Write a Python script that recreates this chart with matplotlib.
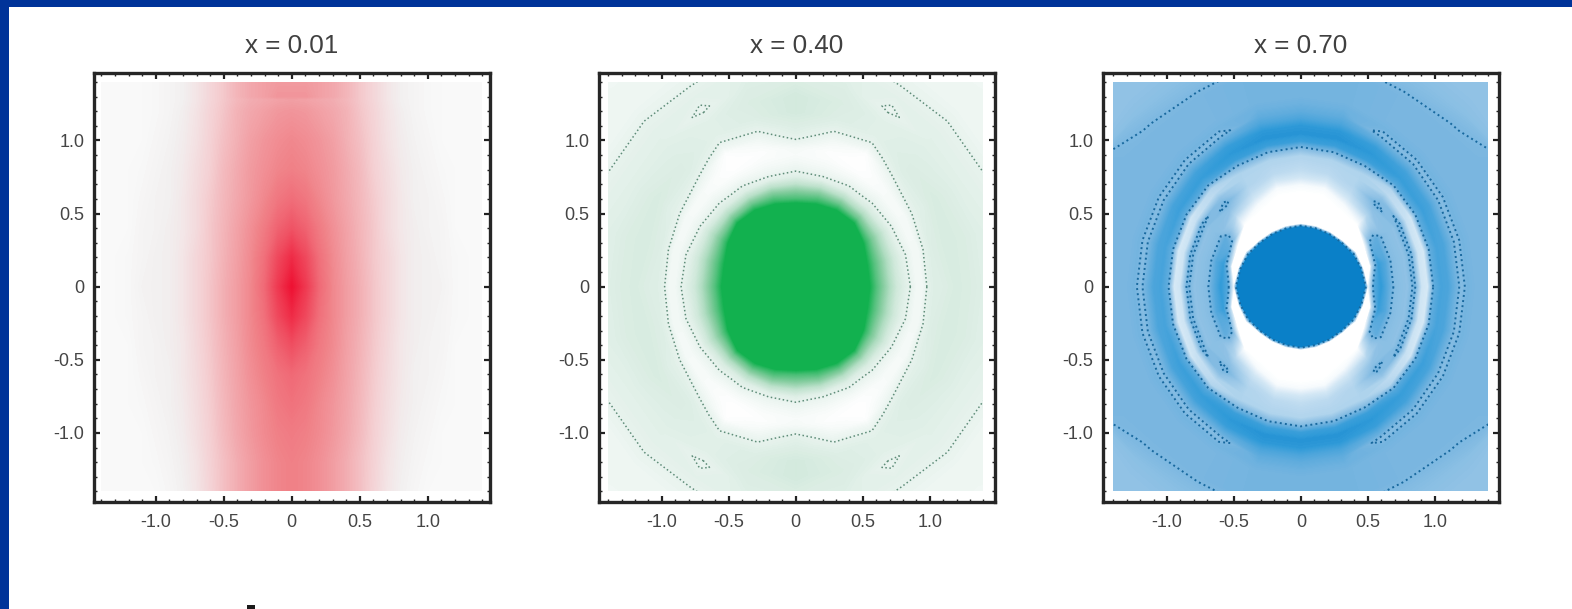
import numpy as np
import matplotlib
matplotlib.use('Agg')
import matplotlib.pyplot as plt
from matplotlib.colors import LinearSegmentedColormap
from matplotlib.patches import Rectangle
from matplotlib.ticker import MultipleLocator

plt.rcParams['font.family'] = ['Liberation Sans', 'DejaVu Sans']

W, H = 1572, 609
titles = ['x = 0.01', 'x = 0.40', 'x = 0.70']
tick_vals = [-1.0, -0.5, 0, 0.5, 1.0]
tick_labels = ['-1.0', '-0.5', '0', '0.5', '1.0']

# panel 1, values on a grid, right half only (mirrored in x)
red_x = [0, .1, .2, .3, .4, .5, .6, .7, .8, .9, 1.0, 1.1, 1.2, 1.3, 1.4]
red_y = [-1.4, -1.2, -1.0, -.8, -.6, -.4, -.2, 0, .2, .4, .6, .8, 1.0, 1.2, 1.28, 1.3, 1.4]
red_vals = [
    [.50, .48, .44, .39, .33, .26, .18, .10, .05, .02, 0, 0, 0, 0, 0],
    [.50, .48, .44, .39, .33, .26, .19, .11, .06, .03, .01, 0, 0, 0, 0],
    [.52, .50, .46, .41, .35, .28, .20, .13, .07, .04, .02, 0, 0, 0, 0],
    [.56, .53, .47, .42, .36, .29, .21, .14, .08, .05, .03, .01, 0, 0, 0],
    [.60, .56, .50, .44, .37, .30, .22, .15, .09, .05, .04, .02, 0, 0, 0],
    [.72, .64, .53, .46, .38, .31, .23, .16, .09, .06, .04, .03, 0, 0, 0],
    [.88, .75, .57, .47, .39, .32, .24, .17, .10, .06, .05, .03, .01, 0, 0],
    [1.0, .82, .60, .47, .39, .32, .24, .17, .10, .06, .05, .04, .01, 0, 0],
    [.88, .75, .57, .46, .38, .31, .23, .17, .10, .06, .05, .03, .01, 0, 0],
    [.70, .63, .52, .44, .37, .30, .23, .15, .09, .06, .04, .03, 0, 0, 0],
    [.58, .54, .47, .41, .35, .29, .22, .15, .09, .05, .04, .02, 0, 0, 0],
    [.50, .48, .44, .40, .34, .28, .20, .14, .08, .05, .03, .01, 0, 0, 0],
    [.47, .45, .42, .38, .32, .26, .19, .12, .07, .04, .02, 0, 0, 0, 0],
    [.42, .41, .38, .35, .31, .24, .18, .11, .06, .03, .01, 0, 0, 0, 0],
    [.38, .37, .35, .33, .29, .23, .17, .10, .05, .03, .01, 0, 0, 0, 0],
    [.42, .42, .38, .35, .30, .23, .17, .10, .05, .03, .01, 0, 0, 0, 0],
    [.40, .40, .38, .35, .30, .23, .17, .10, .05, .03, .01, 0, 0, 0, 0],
]

# panels 2 and 3, values by radius for angles 0,15..90 (mirrored into the other quadrants)
angles = [0, 15, 30, 45, 60, 75, 90]
green_r = [0, .3, .5, .55, .6, .65, .7, .75, .8, .85, .9, .95, 1.0, 1.05, 1.1, 1.15, 1.2, 1.3, 1.4, 1.5, 1.6, 1.7, 2.0]
green_vals = [
    [1.5, 1.5, 1.5, 1.0, .72, .50, .32, .20, .14, .095, .05, .05, .12, .14, .14, .15, .16, .15, .13, .12, .11, .10, .08],
    [1.5, 1.5, 1.5, 1.0, .72, .50, .32, .20, .13, .088, .05, .05, .11, .14, .15, .16, .16, .15, .13, .12, .11, .10, .07],
    [1.5, 1.5, 1.5, 1.25, .85, .55, .34, .20, .11, .07, .04, .04, .09, .12, .13, .15, .16, .14, .12, .11, .09, .07, .07],
    [1.5, 1.5, 1.5, 1.5, 1.1, .62, .32, .16, .095, .06, .03, .03, .06, .10, .13, .14, .14, .13, .12, .11, .09, .07, .06],
    [1.5, 1.5, 1.5, 1.5, 1.0, .60, .30, .14, .085, .04, .01, 0, 0, .01, .06, .10, .12, .12, .08, .11, .085, .07, .06],
    [1.5, 1.5, 1.5, 1.25, .85, .55, .28, .12, .07, .04, .02, .01, .03, .06, .09, .12, .14, .15, .14, .12, .10, .08, .07],
    [1.5, 1.5, 1.5, 1.15, .75, .50, .26, .13, .08, .05, .03, .04, .085, .12, .14, .16, .18, .18, .15, .13, .12, .10, .08],
]

blue_r = [0, .2, .4, .45, .5, .55, .6, .65, .7, .75, .8, .85, .9, .95, 1.0, 1.05, 1.1, 1.15, 1.2, 1.25, 1.3, 1.4, 1.5, 1.6, 1.7, 1.8, 2.0]
blue_vals = [
    [2, 2, 2, 2, 0, .75, .88, .72, .55, .52, .50, .62, .22, .18, .70, .80, .78, .66, .54, .62, .60, .60, .60, .60, .60, .60, .60],
    [2, 2, 2, 1.5, -1, .30, .85, .75, .55, .52, .50, .62, .22, .18, .70, .80, .78, .66, .54, .62, .60, .60, .60, .60, .60, .60, .55],
    [2, 2, 2, .7, -1, 0, .62, .70, .55, .52, .50, .62, .25, .20, .72, .84, .80, .66, .54, .62, .60, .60, .60, .60, .60, .50, .50],
    [2, 2, 2, -.5, -1, 0, 0, .15, .35, .50, .62, .50, .30, .34, .75, .86, .82, .68, .54, .62, .60, .60, .60, .575, .52, .50, .50],
    [2, 2, 1.5, -1, -1, 0, 0, .04, .20, .30, .35, .35, .36, .56, .85, .90, .86, .70, .54, .62, .60, .60, .60, .55, .52, .50, .50],
    [2, 2, 1.2, -1, 0, 0, 0, 0, .04, .20, .30, .33, .36, .57, .85, .92, .90, .78, .70, .65, .62, .62, .62, .55, .52, .50, .50],
    [2, 2, 1.4, -1, 0, 0, 0, 0, .04, .20, .28, .32, .35, .55, .85, .92, .90, .78, .70, .65, .62, .62, .62, .62, .60, .60, .60],
]

red_cmap = LinearSegmentedColormap.from_list('r', [(0, '#F9F9F9'), (.05, '#F2F0F0'), (.2, '#F4D0D3'), (.5, '#F08087'), (1, '#EE1233')])
green_cmap = LinearSegmentedColormap.from_list('g', [(0, '#FFFFFF'), (.1, '#E6F2EC'), (.2, '#CFE8DA'), (.5, '#86CDA0'), (1, '#12B14F')])
blue_cmap = LinearSegmentedColormap.from_list('b', [(0, '#FFFFFF'), (.6, '#7AB6E0'), (.9, '#2F9AD8'), (1, '#0A80C8')])


def polar_mesh(radii, table):
    # mirror the 0-90 table round the full circle
    table = np.array(table, dtype=float)
    idx = list(range(7)) + list(range(5, -1, -1)) + list(range(1, 7)) + list(range(5, -1, -1))
    th = np.radians(np.arange(len(idx)) * (angles[1] - angles[0]))
    r = np.array(radii)
    return np.outer(r, np.cos(th)), np.outer(r, np.sin(th)), table[idx].T


def make_axes(left, right, xlim, title):
    top, bottom = 72.7, 501.7
    ax = fig.add_axes([left / W, 1 - bottom / H, (right - left) / W, (bottom - top) / H])
    ax.set_xlim(xlim)
    ax.set_ylim(-1.47, 1.463)
    ax.set_xticks(tick_vals, tick_labels)
    ax.set_yticks(tick_vals, tick_labels)
    ax.xaxis.set_minor_locator(MultipleLocator(0.1))
    ax.yaxis.set_minor_locator(MultipleLocator(0.1))
    ax.tick_params(which='major', direction='in', top=True, right=True, length=4.5, width=1.6,
                   color='#222222', labelcolor='#454545', labelsize=13, pad=7)
    ax.tick_params(which='minor', direction='in', top=True, right=True, length=2.5, width=1.0, color='#222222')
    ax.tick_params(axis='x', which='major', pad=9)
    for s in ax.spines.values():
        s.set_linewidth(2.4)
        s.set_color('#262626')
    ax.set_title(title, fontsize=18.7, color='#404040', pad=14)
    return ax


def draw_field(ax, X, Y, Z, cmap, level, line_color, line_width=1.0):
    clip = Rectangle((-1.4, -1.4), 2.8, 2.8, transform=ax.transData)
    cs = ax.contourf(X, Y, Z, levels=np.linspace(0, 1, 129), cmap=cmap, extend='both')
    cs.set_clip_path(clip)
    if level is not None:
        cl = ax.contour(X, Y, Z, levels=[level], colors=line_color, linewidths=line_width, linestyles=':')
        cl.set_clip_path(clip)


fig = plt.figure(figsize=(W / 100, H / 100), dpi=100, facecolor='white')
fig.add_artist(Rectangle((0, 0), 9 / W, 1, transform=fig.transFigure, color='#003399', lw=0))
fig.add_artist(Rectangle((0, 1 - 7 / H), 1, 7 / H, transform=fig.transFigure, color='#003399', lw=0))
fig.add_artist(Rectangle((247 / W, 0), 8 / W, 4 / H, transform=fig.transFigure, color='#1A1A1A', lw=0))

ax1 = make_axes(94, 490, (-1.455, 1.458), titles[0])
rx = np.array(red_x)
full_x = np.concatenate([-rx[:0:-1], rx])
full_red = np.array([row[:0:-1] + row for row in red_vals])
draw_field(ax1, full_x, np.array(red_y), full_red, red_cmap, None, None)

ax2 = make_axes(599, 995, (-1.468, 1.487), titles[1])
X, Y, Z = polar_mesh(green_r, green_vals)
draw_field(ax2, X, Y, Z, green_cmap, 0.09, '#5E8C78', 1.1)

ax3 = make_axes(1103, 1499, (-1.478, 1.48), titles[2])
X, Y, Z = polar_mesh(blue_r, blue_vals)
draw_field(ax3, X, Y, Z, blue_cmap, 0.58, '#17689E', 1.4)

fig.savefig('out.png', dpi=100)
